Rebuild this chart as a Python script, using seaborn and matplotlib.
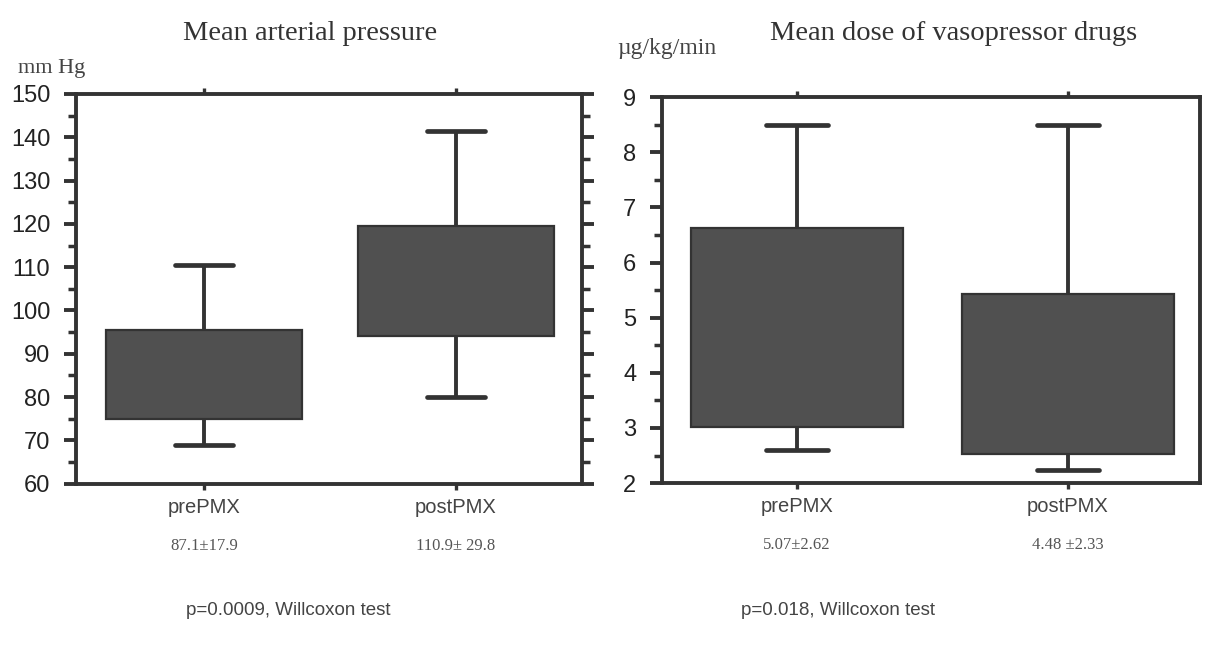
import numpy as np
import pandas as pd
import matplotlib
matplotlib.use("Agg")
import matplotlib.pyplot as plt
from matplotlib.ticker import MultipleLocator
import seaborn as sns

# Groups compared before / after PMX treatment
groups = ["prePMX", "postPMX"]

# Mean arterial pressure (mmHg): whisker ends, quartiles and group means
map_low = [69.0, 80.0]
map_q1 = [75.0, 94.0]
map_mean = [87.1, 110.9]
map_q3 = [95.5, 119.5]
map_high = [110.5, 141.5]
map_stats = ["87.1\u00b117.9", "110.9\u00b1 29.8"]

# Mean dose of vasopressor drugs (µg/kg/min)
vaso_low = [2.6, 2.24]
vaso_q1 = [3.02, 2.53]
vaso_mean = [5.07, 4.48]
vaso_q3 = [6.62, 5.43]
vaso_high = [8.5, 8.5]
vaso_stats = ["5.07\u00b12.62", "4.48 \u00b12.33"]

# Test results printed under each panel
p_texts = ["p=0.0009, Willcoxon test", "p=0.018, Willcoxon test"]
titles = ["Mean arterial pressure", "Mean dose of vasopressor drugs"]
units = ["mm Hg", "\u00b5g/kg/min"]


def long_frame(low, q1, mid, q3, high):
    rows = []
    for i, g in enumerate(groups):
        for v in (low[i], q1[i], mid[i], q3[i], high[i]):
            rows.append({"group": g, "value": v})
    return pd.DataFrame(rows)


sns.set_theme(style="white")
plt.rcParams["font.family"] = ["Liberation Sans", "DejaVu Sans"]

INK = "#333333"
BOX = "#505050"
SERIF = ["Liberation Serif", "DejaVu Serif"]

fig = plt.figure(figsize=(12.06, 6.52), dpi=100)
ax1 = fig.add_axes([0.063, 0.258, 0.4196, 0.598])
ax2 = fig.add_axes([0.549, 0.259, 0.446, 0.592])

panels = [
    (ax1, long_frame(map_low, map_q1, map_mean, map_q3, map_high), (60, 150), 10, 5,
     map_stats, True, (-0.508, 1.50)),
    (ax2, long_frame(vaso_low, vaso_q1, vaso_mean, vaso_q3, vaso_high), (2, 9), 1, 0.5,
     vaso_stats, False, (-0.498, 1.487)),
]

for ax, df, ylim, major, minor, stats, right_ticks, xlim in panels:
    sns.boxplot(
        data=df, x="group", y="value", order=groups, ax=ax,
        whis=(0, 100), width=0.78, color=BOX, linecolor=INK,
        linewidth=2.8, saturation=1, showfliers=False,
        medianprops={"visible": False}, capwidths=0.23,
        boxprops={"linewidth": 1.6},
        capprops={"linewidth": 3.4, "solid_capstyle": "round"},
    )
    ax.set_xlim(*xlim)
    ax.set_ylim(*ylim)
    ax.yaxis.set_major_locator(MultipleLocator(major))
    ax.yaxis.set_minor_locator(MultipleLocator(minor))
    ax.set_xlabel("")
    ax.set_ylabel("")
    for sp in ax.spines.values():
        sp.set_visible(True)
        sp.set_color(INK)
        sp.set_linewidth(2.8)
    ax.tick_params(axis="y", which="major", direction="out", length=8.5, width=2.8,
                   color=INK, left=True, right=right_ticks, labelsize=17,
                   labelcolor="#222222", pad=10)
    ax.tick_params(axis="y", which="minor", direction="out", length=5.5, width=2.5,
                   color=INK, left=True, right=right_ticks)
    ax.tick_params(axis="x", direction="out", length=4, width=2.4, color=INK,
                   top=True, bottom=True, labelsize=14.5, labelcolor="#444444", pad=6)
    for i, s in enumerate(stats):
        ax.text(i, -0.16, s, transform=ax.get_xaxis_transform(), ha="center", va="center",
                fontsize=12, color="#555555", family=SERIF)

fig.text(0.257, 0.948, titles[0], ha="center", va="center", fontsize=20.5, color=INK, family=SERIF)
fig.text(0.791, 0.948, titles[1], ha="center", va="center", fontsize=20.5, color=INK, family=SERIF)
fig.text(0.015, 0.895, units[0], ha="left", va="center", fontsize=16, color="#444444", family=SERIF)
fig.text(0.512, 0.925, units[1], ha="left", va="center", fontsize=17, color="#444444", family=SERIF)
fig.text(0.239, 0.064, p_texts[0], ha="center", va="center", fontsize=13.5, color="#444444")
fig.text(0.695, 0.064, p_texts[1], ha="center", va="center", fontsize=13.5, color="#444444")

fig.savefig("out.png", dpi=100, facecolor="white")
